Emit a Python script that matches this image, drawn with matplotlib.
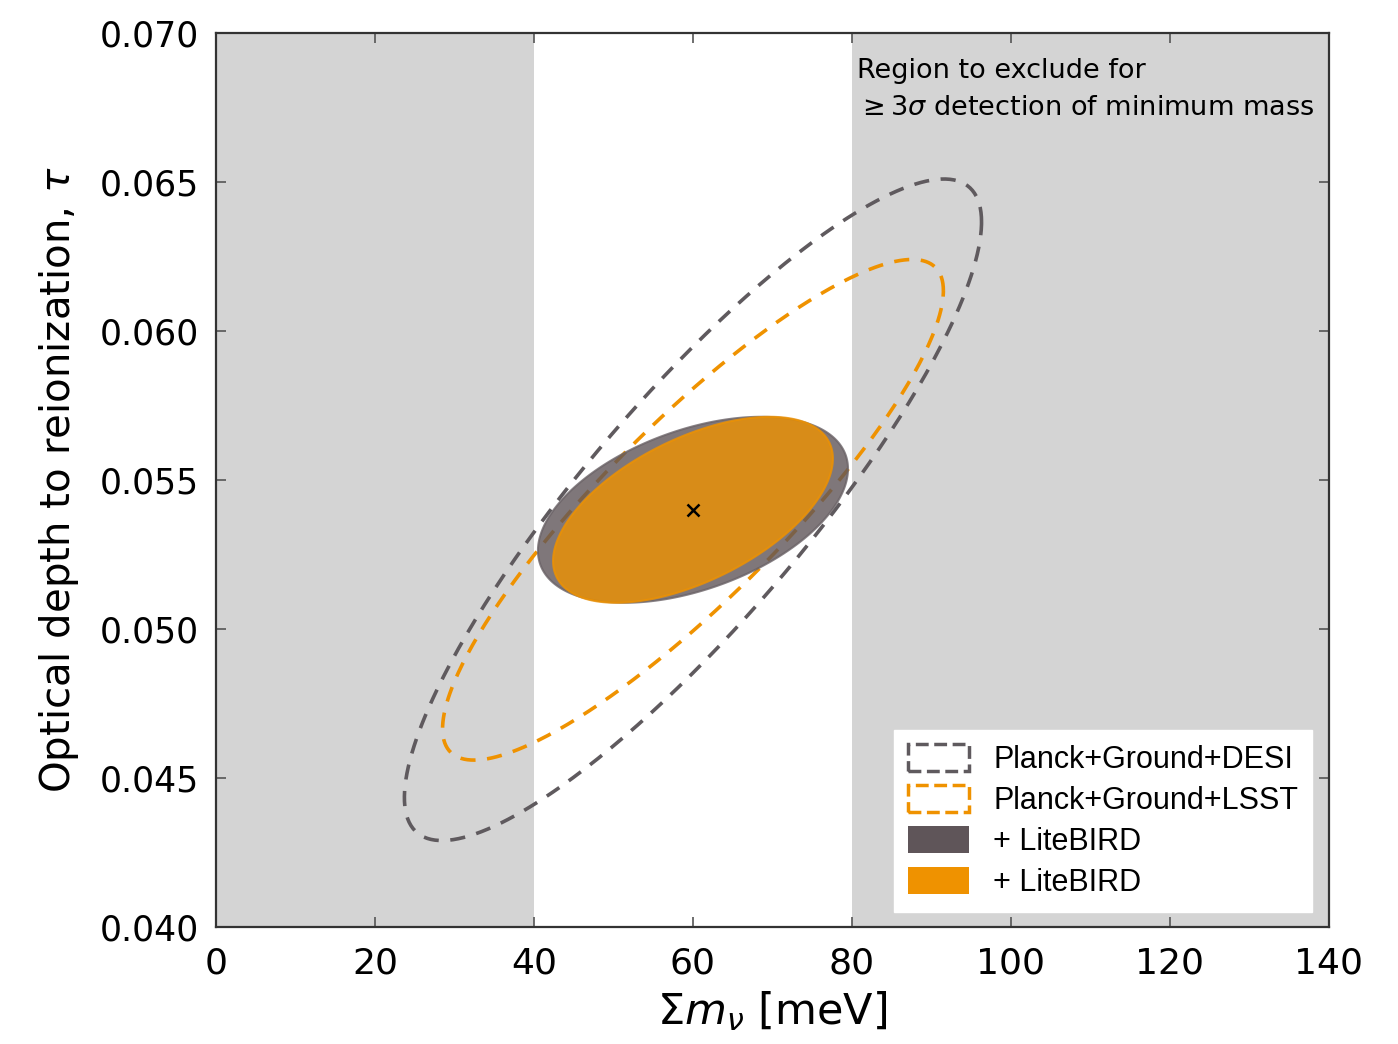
import numpy as np
import matplotlib
matplotlib.use("Agg")
import matplotlib.pyplot as plt
from matplotlib.patches import Patch

# ---- data ----
center = (60.0, 0.054)                     # fiducial sum m_nu [meV], tau
labels = ["Planck+Ground+DESI", "Planck+Ground+LSST", "+ LiteBIRD", "+ LiteBIRD"]
half_width_mnu = [36.3, 31.5, 19.5, 17.6]  # x half-extent of each contour [meV]
half_width_tau = [0.0111, 0.0084, 0.00312, 0.00312]  # y half-extent
correlation = [0.87, 0.875, 0.44, 0.55]
exclude_regions = [(0, 40), (80, 140)]
xticks = [0, 20, 40, 60, 80, 100, 120, 140]
yticks = [0.040, 0.045, 0.050, 0.055, 0.060, 0.065, 0.070]

gray = "#5f5a5e"
orange = "#ef9200"

def ellipse(cx, cy, a, b, rho, n=400):
    t = np.linspace(0, 2 * np.pi, n)
    x = cx + a * np.cos(t)
    y = cy + b * (rho * np.cos(t) + np.sqrt(1 - rho ** 2) * np.sin(t))
    return x, y

fig = plt.figure(figsize=(13.98, 10.44), dpi=100)
ax = fig.add_axes([0.1545, 0.1121, 0.9506 - 0.1545, 0.9684 - 0.1121])

for lo, hi in exclude_regions:
    ax.axvspan(lo, hi, color="#d4d4d4", lw=0, zorder=0)

# dashed contours
x, y = ellipse(*center, half_width_mnu[0], half_width_tau[0], correlation[0])
ax.plot(x, y, color=gray, lw=2.6, dashes=(4.2, 3.2), zorder=2)
x, y = ellipse(*center, half_width_mnu[1], half_width_tau[1], correlation[1])
ax.plot(x, y, color=orange, lw=2.6, dashes=(4.2, 3.2), zorder=2)

# filled contours
x, y = ellipse(*center, half_width_mnu[2], half_width_tau[2], correlation[2])
ax.fill(x, y, facecolor="#5f5559", alpha=0.8, edgecolor="#6a6266", lw=1.5, zorder=3)
x, y = ellipse(*center, half_width_mnu[3], half_width_tau[3], correlation[3])
ax.fill(x, y, facecolor=orange, alpha=0.8, edgecolor=orange, lw=1.5, zorder=4)

ax.plot([center[0]], [center[1]], marker="x", color="black", ms=8, mew=1.8, zorder=5)

ax.set_xlim(0, 140)
ax.set_ylim(0.040, 0.070)
ax.set_xticks(xticks)
ax.set_xticklabels([str(v) for v in xticks])
ax.set_yticks(yticks)
ax.set_yticklabels([f"{v:.3f}" for v in yticks])
ax.tick_params(direction="in", length=7, width=1.2, top=True, right=True,
               colors="#555555", labelcolor="black")
ax.tick_params(axis="y", labelsize=25, pad=12)
ax.tick_params(axis="x", labelsize=26, pad=14)
for s in ax.spines.values():
    s.set_color("#333333")
    s.set_linewidth(1.6)

ax.set_xlabel(r"$\Sigma m_\nu$ [meV]", fontsize=31, labelpad=6)
ax.set_ylabel(r"Optical depth to reionization, $\tau$", fontsize=29, labelpad=14)

ax.text(80.6, 0.06915, "Region to exclude for\n" + r"$\geq 3\sigma$ detection of minimum mass",
        fontsize=19.5, va="top", ha="left", linespacing=1.55, zorder=6)

handles = [
    Patch(facecolor="none", edgecolor=gray, linestyle="--", linewidth=2.5),
    Patch(facecolor="none", edgecolor=orange, linestyle="--", linewidth=2.5),
    Patch(facecolor="#5f5559", edgecolor="none"),
    Patch(facecolor=orange, edgecolor="none"),
]
leg = ax.legend(handles, labels, loc="lower right", bbox_to_anchor=(0.985, 0.017),
                borderaxespad=0.0,
                prop={"family": "Liberation Sans", "size": 22}, frameon=True,
                fancybox=False, edgecolor="white", framealpha=1.0,
                handlelength=2.0, handleheight=1.0, labelspacing=0.32,
                handletextpad=0.8, borderpad=0.45)
leg.set_zorder(10)

fig.savefig("out.png", dpi=100)
